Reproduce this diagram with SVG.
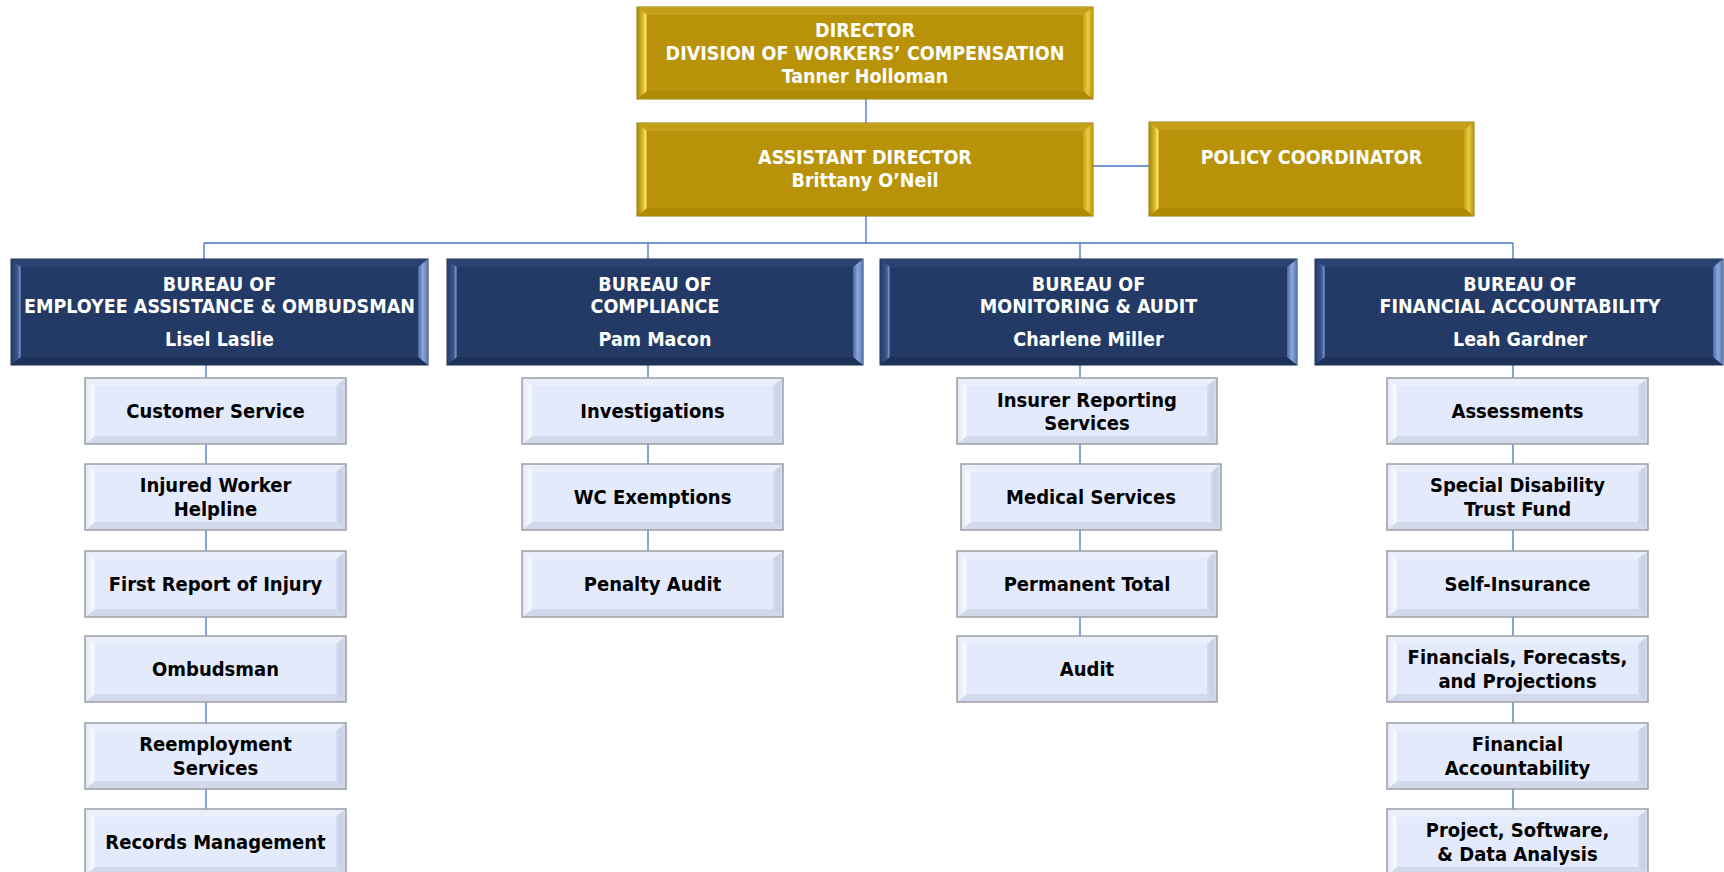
<svg xmlns="http://www.w3.org/2000/svg" width="1724" height="872" viewBox="0 0 1724 872">
<defs>
<linearGradient id="gL" x1="0" y1="0" x2="1" y2="0"><stop offset="0" stop-color="#a98800"/><stop offset="0.6" stop-color="#d9bb2a"/><stop offset="0.85" stop-color="#f7e76a"/><stop offset="1" stop-color="#c9a516"/></linearGradient>
<linearGradient id="gR" x1="0" y1="0" x2="1" y2="0"><stop offset="0" stop-color="#c9a414"/><stop offset="0.5" stop-color="#e6cc45"/><stop offset="1" stop-color="#b89300"/></linearGradient>
<linearGradient id="nL" x1="0" y1="0" x2="1" y2="0"><stop offset="0" stop-color="#223a66"/><stop offset="0.7" stop-color="#3d5a8e"/><stop offset="0.9" stop-color="#7f9bd0"/><stop offset="1" stop-color="#2c4676"/></linearGradient>
<linearGradient id="nR" x1="0" y1="0" x2="1" y2="0"><stop offset="0" stop-color="#4a68a0"/><stop offset="0.5" stop-color="#8eaadc"/><stop offset="1" stop-color="#5672a8"/></linearGradient>
<linearGradient id="lL" x1="0" y1="0" x2="1" y2="0"><stop offset="0" stop-color="#dfe5f4"/><stop offset="0.8" stop-color="#f8faff"/><stop offset="1" stop-color="#eef2fc"/></linearGradient>
<linearGradient id="lR" x1="0" y1="0" x2="1" y2="0"><stop offset="0" stop-color="#d4dcee"/><stop offset="0.5" stop-color="#c8d1e4"/><stop offset="1" stop-color="#d8dfef"/></linearGradient>
</defs>
<style>
.c{stroke:#4472c4;stroke-width:1.3;fill:none}
.gf{fill:#b8930a;stroke:#8a7410;stroke-width:1}
.gt{fill:#c4a01a}.gb{fill:#ad8b04}.gl{fill:url(#gL)}.gr{fill:url(#gR)}
.nf{fill:#233a66;stroke:#1a2c50;stroke-width:1}
.nt{fill:#2a4372}.nb{fill:#1d3159}.nl{fill:url(#nL)}.nr{fill:url(#nR)}
.lf{fill:#e3eafb}
.lo{fill:none;stroke:#9c9ea4;stroke-width:1.5}
.lt{fill:#eaeffb}.lb{fill:#d2d9ea}.ll{fill:url(#lL)}.lr{fill:url(#lR)}
text{font-family:"DejaVu Sans","Liberation Sans",sans-serif;font-stretch:condensed;font-weight:bold;text-anchor:middle}
.w{fill:#ffffff;font-size:19.5px}
.k{fill:#000000;font-size:20px}
</style>
<g id="connectors">
<line class="c" x1="866" y1="99" x2="866" y2="123"/>
<line class="c" x1="1093" y1="166" x2="1149" y2="166"/>
<line class="c" x1="866" y1="216" x2="866" y2="243"/>
<line class="c" x1="204" y1="243" x2="1513" y2="243"/>
<line class="c" x1="204" y1="243" x2="204" y2="259"/>
<line class="c" x1="648" y1="243" x2="648" y2="259"/>
<line class="c" x1="1080" y1="243" x2="1080" y2="259"/>
<line class="c" x1="1513" y1="243" x2="1513" y2="259"/>
<line class="c" x1="206" y1="365" x2="206" y2="809"/>
<line class="c" x1="648" y1="365" x2="648" y2="551"/>
<line class="c" x1="1080" y1="365" x2="1080" y2="636"/>
<line class="c" x1="1513" y1="365" x2="1513" y2="809"/>
</g>

<g id="director">
<rect class="gf" x="637" y="7" width="456" height="92"/>
<polygon class="gt" points="637,7 1093,7 1083,15 647,15"/>
<polygon class="gb" points="637,99 1093,99 1083,91 647,91"/>
<polygon class="gl" points="637,7 647,15 647,91 637,99"/>
<polygon class="gr" points="1093,7 1083,15 1083,91 1093,99"/>
<text class="w" x="865" y="37">DIRECTOR</text>
<text class="w" x="865" y="60">DIVISION OF WORKERS’ COMPENSATION</text>
<text class="w" x="865" y="83">Tanner Holloman</text>
</g>

<g id="assistant-director">
<rect class="gf" x="637" y="123" width="456" height="93"/>
<polygon class="gt" points="637,123 1093,123 1083,131 647,131"/>
<polygon class="gb" points="637,216 1093,216 1083,208 647,208"/>
<polygon class="gl" points="637,123 647,131 647,208 637,216"/>
<polygon class="gr" points="1093,123 1083,131 1083,208 1093,216"/>
<text class="w" x="865" y="164">ASSISTANT DIRECTOR</text>
<text class="w" x="865" y="187">Brittany O’Neil</text>
</g>

<g id="policy-coordinator">
<rect class="gf" x="1149" y="122" width="325" height="94"/>
<polygon class="gt" points="1149,122 1474,122 1464,130 1159,130"/>
<polygon class="gb" points="1149,216 1474,216 1464,208 1159,208"/>
<polygon class="gl" points="1149,122 1159,130 1159,208 1149,216"/>
<polygon class="gr" points="1474,122 1464,130 1464,208 1474,216"/>
<text class="w" x="1311.5" y="164">POLICY COORDINATOR</text>
</g>

<g id="bureau-employee-assistance">
<rect class="nf" x="11" y="259" width="417" height="106"/>
<polygon class="nt" points="11,259 428,259 418,267 21,267"/>
<polygon class="nb" points="11,365 428,365 418,357 21,357"/>
<polygon class="nl" points="11,259 21,267 21,357 11,365"/>
<polygon class="nr" points="428,259 418,267 418,357 428,365"/>
<text class="w" x="219.5" y="291">BUREAU OF</text>
<text class="w" x="219.5" y="313">EMPLOYEE ASSISTANCE &amp; OMBUDSMAN</text>
<text class="w" x="219.5" y="346">Lisel Laslie</text>
</g>

<g id="bureau-compliance">
<rect class="nf" x="447" y="259" width="416" height="106"/>
<polygon class="nt" points="447,259 863,259 853,267 457,267"/>
<polygon class="nb" points="447,365 863,365 853,357 457,357"/>
<polygon class="nl" points="447,259 457,267 457,357 447,365"/>
<polygon class="nr" points="863,259 853,267 853,357 863,365"/>
<text class="w" x="655" y="291">BUREAU OF</text>
<text class="w" x="655" y="313">COMPLIANCE</text>
<text class="w" x="655" y="346">Pam Macon</text>
</g>

<g id="bureau-monitoring-audit">
<rect class="nf" x="880" y="259" width="417" height="106"/>
<polygon class="nt" points="880,259 1297,259 1287,267 890,267"/>
<polygon class="nb" points="880,365 1297,365 1287,357 890,357"/>
<polygon class="nl" points="880,259 890,267 890,357 880,365"/>
<polygon class="nr" points="1297,259 1287,267 1287,357 1297,365"/>
<text class="w" x="1088.5" y="291">BUREAU OF</text>
<text class="w" x="1088.5" y="313">MONITORING &amp; AUDIT</text>
<text class="w" x="1088.5" y="346">Charlene Miller</text>
</g>

<g id="bureau-financial-accountability">
<rect class="nf" x="1315" y="259" width="408" height="106"/>
<polygon class="nt" points="1315,259 1723,259 1713,267 1325,267"/>
<polygon class="nb" points="1315,365 1723,365 1713,357 1325,357"/>
<polygon class="nl" points="1315,259 1325,267 1325,357 1315,365"/>
<polygon class="nr" points="1723,259 1713,267 1713,357 1723,365"/>
<text class="w" x="1520" y="291">BUREAU OF</text>
<text class="w" x="1520" y="313">FINANCIAL ACCOUNTABILITY</text>
<text class="w" x="1520" y="346">Leah Gardner</text>
</g>

<!-- Column 1 -->
<g id="customer-service">
<rect class="lf" x="85" y="378" width="261" height="66"/>
<polygon class="lt" points="85,378 346,378 336,386 95,386"/><polygon class="lb" points="85,444 346,444 336,436 95,436"/>
<polygon class="ll" points="85,378 95,386 95,436 85,444"/><polygon class="lr" points="346,378 336,386 336,436 346,444"/>
<rect class="lo" x="85" y="378" width="261" height="66"/>
<text class="k" x="215.5" y="418">Customer Service</text>
</g>
<g id="injured-worker-helpline">
<rect class="lf" x="85" y="464" width="261" height="66"/>
<polygon class="lt" points="85,464 346,464 336,472 95,472"/><polygon class="lb" points="85,530 346,530 336,522 95,522"/>
<polygon class="ll" points="85,464 95,472 95,522 85,530"/><polygon class="lr" points="346,464 336,472 336,522 346,530"/>
<rect class="lo" x="85" y="464" width="261" height="66"/>
<text class="k" x="215.5" y="492">Injured Worker</text>
<text class="k" x="215.5" y="516">Helpline</text>
</g>
<g id="first-report-of-injury">
<rect class="lf" x="85" y="551" width="261" height="66"/>
<polygon class="lt" points="85,551 346,551 336,559 95,559"/><polygon class="lb" points="85,617 346,617 336,609 95,609"/>
<polygon class="ll" points="85,551 95,559 95,609 85,617"/><polygon class="lr" points="346,551 336,559 336,609 346,617"/>
<rect class="lo" x="85" y="551" width="261" height="66"/>
<text class="k" x="215.5" y="591">First Report of Injury</text>
</g>
<g id="ombudsman">
<rect class="lf" x="85" y="636" width="261" height="66"/>
<polygon class="lt" points="85,636 346,636 336,644 95,644"/><polygon class="lb" points="85,702 346,702 336,694 95,694"/>
<polygon class="ll" points="85,636 95,644 95,694 85,702"/><polygon class="lr" points="346,636 336,644 336,694 346,702"/>
<rect class="lo" x="85" y="636" width="261" height="66"/>
<text class="k" x="215.5" y="676">Ombudsman</text>
</g>
<g id="reemployment-services">
<rect class="lf" x="85" y="723" width="261" height="66"/>
<polygon class="lt" points="85,723 346,723 336,731 95,731"/><polygon class="lb" points="85,789 346,789 336,781 95,781"/>
<polygon class="ll" points="85,723 95,731 95,781 85,789"/><polygon class="lr" points="346,723 336,731 336,781 346,789"/>
<rect class="lo" x="85" y="723" width="261" height="66"/>
<text class="k" x="215.5" y="751">Reemployment</text>
<text class="k" x="215.5" y="775">Services</text>
</g>
<g id="records-management">
<rect class="lf" x="85" y="809" width="261" height="66"/>
<polygon class="lt" points="85,809 346,809 336,817 95,817"/><polygon class="lb" points="85,875 346,875 336,867 95,867"/>
<polygon class="ll" points="85,809 95,817 95,867 85,875"/><polygon class="lr" points="346,809 336,817 336,867 346,875"/>
<rect class="lo" x="85" y="809" width="261" height="66"/>
<text class="k" x="215.5" y="849">Records Management</text>
</g>

<!-- Column 2 -->
<g id="investigations">
<rect class="lf" x="522" y="378" width="261" height="66"/>
<polygon class="lt" points="522,378 783,378 773,386 532,386"/><polygon class="lb" points="522,444 783,444 773,436 532,436"/>
<polygon class="ll" points="522,378 532,386 532,436 522,444"/><polygon class="lr" points="783,378 773,386 773,436 783,444"/>
<rect class="lo" x="522" y="378" width="261" height="66"/>
<text class="k" x="652.5" y="418">Investigations</text>
</g>
<g id="wc-exemptions">
<rect class="lf" x="522" y="464" width="261" height="66"/>
<polygon class="lt" points="522,464 783,464 773,472 532,472"/><polygon class="lb" points="522,530 783,530 773,522 532,522"/>
<polygon class="ll" points="522,464 532,472 532,522 522,530"/><polygon class="lr" points="783,464 773,472 773,522 783,530"/>
<rect class="lo" x="522" y="464" width="261" height="66"/>
<text class="k" x="652.5" y="504">WC Exemptions</text>
</g>
<g id="penalty-audit">
<rect class="lf" x="522" y="551" width="261" height="66"/>
<polygon class="lt" points="522,551 783,551 773,559 532,559"/><polygon class="lb" points="522,617 783,617 773,609 532,609"/>
<polygon class="ll" points="522,551 532,559 532,609 522,617"/><polygon class="lr" points="783,551 773,559 773,609 783,617"/>
<rect class="lo" x="522" y="551" width="261" height="66"/>
<text class="k" x="652.5" y="591">Penalty Audit</text>
</g>

<!-- Column 3 -->
<g id="insurer-reporting-services">
<rect class="lf" x="957" y="378" width="260" height="66"/>
<polygon class="lt" points="957,378 1217,378 1207,386 967,386"/><polygon class="lb" points="957,444 1217,444 1207,436 967,436"/>
<polygon class="ll" points="957,378 967,386 967,436 957,444"/><polygon class="lr" points="1217,378 1207,386 1207,436 1217,444"/>
<rect class="lo" x="957" y="378" width="260" height="66"/>
<text class="k" x="1087" y="407">Insurer Reporting</text>
<text class="k" x="1087" y="430">Services</text>
</g>
<g id="medical-services">
<rect class="lf" x="961" y="464" width="260" height="66"/>
<polygon class="lt" points="961,464 1221,464 1211,472 971,472"/><polygon class="lb" points="961,530 1221,530 1211,522 971,522"/>
<polygon class="ll" points="961,464 971,472 971,522 961,530"/><polygon class="lr" points="1221,464 1211,472 1211,522 1221,530"/>
<rect class="lo" x="961" y="464" width="260" height="66"/>
<text class="k" x="1091" y="504">Medical Services</text>
</g>
<g id="permanent-total">
<rect class="lf" x="957" y="551" width="260" height="66"/>
<polygon class="lt" points="957,551 1217,551 1207,559 967,559"/><polygon class="lb" points="957,617 1217,617 1207,609 967,609"/>
<polygon class="ll" points="957,551 967,559 967,609 957,617"/><polygon class="lr" points="1217,551 1207,559 1207,609 1217,617"/>
<rect class="lo" x="957" y="551" width="260" height="66"/>
<text class="k" x="1087" y="591">Permanent Total</text>
</g>
<g id="audit">
<rect class="lf" x="957" y="636" width="260" height="66"/>
<polygon class="lt" points="957,636 1217,636 1207,644 967,644"/><polygon class="lb" points="957,702 1217,702 1207,694 967,694"/>
<polygon class="ll" points="957,636 967,644 967,694 957,702"/><polygon class="lr" points="1217,636 1207,644 1207,694 1217,702"/>
<rect class="lo" x="957" y="636" width="260" height="66"/>
<text class="k" x="1087" y="676">Audit</text>
</g>

<!-- Column 4 -->
<g id="assessments">
<rect class="lf" x="1387" y="378" width="261" height="66"/>
<polygon class="lt" points="1387,378 1648,378 1638,386 1397,386"/><polygon class="lb" points="1387,444 1648,444 1638,436 1397,436"/>
<polygon class="ll" points="1387,378 1397,386 1397,436 1387,444"/><polygon class="lr" points="1648,378 1638,386 1638,436 1648,444"/>
<rect class="lo" x="1387" y="378" width="261" height="66"/>
<text class="k" x="1517.5" y="418">Assessments</text>
</g>
<g id="special-disability-trust-fund">
<rect class="lf" x="1387" y="464" width="261" height="66"/>
<polygon class="lt" points="1387,464 1648,464 1638,472 1397,472"/><polygon class="lb" points="1387,530 1648,530 1638,522 1397,522"/>
<polygon class="ll" points="1387,464 1397,472 1397,522 1387,530"/><polygon class="lr" points="1648,464 1638,472 1638,522 1648,530"/>
<rect class="lo" x="1387" y="464" width="261" height="66"/>
<text class="k" x="1517.5" y="492">Special Disability</text>
<text class="k" x="1517.5" y="516">Trust Fund</text>
</g>
<g id="self-insurance">
<rect class="lf" x="1387" y="551" width="261" height="66"/>
<polygon class="lt" points="1387,551 1648,551 1638,559 1397,559"/><polygon class="lb" points="1387,617 1648,617 1638,609 1397,609"/>
<polygon class="ll" points="1387,551 1397,559 1397,609 1387,617"/><polygon class="lr" points="1648,551 1638,559 1638,609 1648,617"/>
<rect class="lo" x="1387" y="551" width="261" height="66"/>
<text class="k" x="1517.5" y="591">Self-Insurance</text>
</g>
<g id="financials-forecasts-projections">
<rect class="lf" x="1387" y="636" width="261" height="66"/>
<polygon class="lt" points="1387,636 1648,636 1638,644 1397,644"/><polygon class="lb" points="1387,702 1648,702 1638,694 1397,694"/>
<polygon class="ll" points="1387,636 1397,644 1397,694 1387,702"/><polygon class="lr" points="1648,636 1638,644 1638,694 1648,702"/>
<rect class="lo" x="1387" y="636" width="261" height="66"/>
<text class="k" x="1517.5" y="664">Financials, Forecasts,</text>
<text class="k" x="1517.5" y="688">and Projections</text>
</g>
<g id="financial-accountability">
<rect class="lf" x="1387" y="723" width="261" height="66"/>
<polygon class="lt" points="1387,723 1648,723 1638,731 1397,731"/><polygon class="lb" points="1387,789 1648,789 1638,781 1397,781"/>
<polygon class="ll" points="1387,723 1397,731 1397,781 1387,789"/><polygon class="lr" points="1648,723 1638,731 1638,781 1648,789"/>
<rect class="lo" x="1387" y="723" width="261" height="66"/>
<text class="k" x="1517.5" y="751">Financial</text>
<text class="k" x="1517.5" y="775">Accountability</text>
</g>
<g id="project-software-data-analysis">
<rect class="lf" x="1387" y="809" width="261" height="66"/>
<polygon class="lt" points="1387,809 1648,809 1638,817 1397,817"/><polygon class="lb" points="1387,875 1648,875 1638,867 1397,867"/>
<polygon class="ll" points="1387,809 1397,817 1397,867 1387,875"/><polygon class="lr" points="1648,809 1638,817 1638,867 1648,875"/>
<rect class="lo" x="1387" y="809" width="261" height="66"/>
<text class="k" x="1517.5" y="837">Project, Software,</text>
<text class="k" x="1517.5" y="861">&amp; Data Analysis</text>
</g>
</svg>
